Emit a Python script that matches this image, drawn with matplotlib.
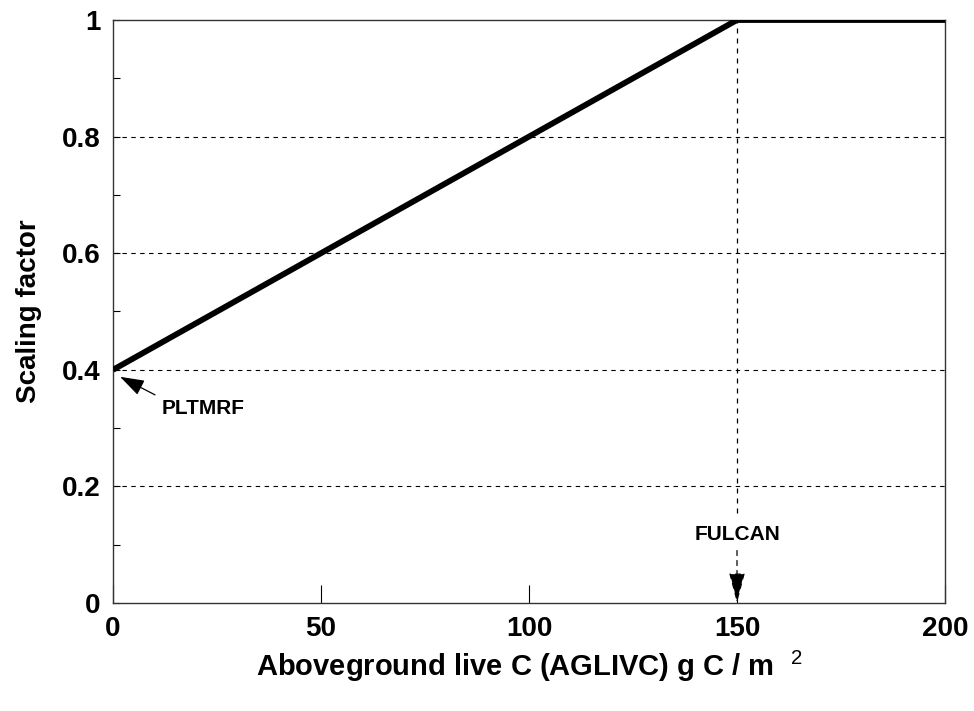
import matplotlib.pyplot as plt

plt.rcParams['font.family'] = ['Liberation Sans', 'DejaVu Sans']
plt.rcParams['mathtext.fontset'] = 'custom'
plt.rcParams['mathtext.rm'] = 'Liberation Sans'
plt.rcParams['mathtext.bf'] = 'Liberation Sans:bold'

# data
agliv_c = [0, 150, 200]
scale = [0.4, 1.0, 1.0]
pltmrf = 0.4
fulcan = 150

x_ticks = [0, 50, 100, 150, 200]
y_ticks = [0, 0.2, 0.4, 0.6, 0.8, 1]
y_tick_labels = ['0', '0.2', '0.4', '0.6', '0.8', '1']

fig = plt.figure(figsize=(9.74, 7.11), dpi=100)
ax = fig.add_axes([113 / 974, 1 - 603 / 711, 832 / 974, 583 / 711])

ax.plot(agliv_c, scale, color='black', lw=4.2, solid_capstyle='butt', zorder=5)

for yv in y_ticks[1:-1]:
    ax.axhline(yv, color='black', lw=0.8, ls=(0, (4, 4)), zorder=1)

# FULCAN marker
ax.plot([fulcan, fulcan], [0.155, 1.0], color='black', lw=0.9, ls=(0, (4, 4)), zorder=2)
ax.text(fulcan, 0.117, 'FULCAN', ha='center', va='center', fontsize=15, fontweight='bold')
ax.annotate('', xy=(fulcan, 0), xytext=(fulcan, 0.09),
            arrowprops=dict(arrowstyle='-|>,head_length=1.9,head_width=0.5', color='black',
                            lw=0.9, ls=(0, (4, 4)), shrinkA=0, shrinkB=0))

# PLTMRF marker
ax.annotate('', xy=(1.7, 0.388), xytext=(10.1, 0.357),
            arrowprops=dict(arrowstyle='-|>,head_length=1.5,head_width=0.5', color='black',
                            lw=0.9, shrinkA=0, shrinkB=0))
ax.text(11.8, 0.333, 'PLTMRF', fontsize=15, fontweight='bold', ha='left', va='center')

ax.set_xlim(0, 200)
ax.set_ylim(0, 1)
ax.set_xticks(x_ticks)
ax.set_xticklabels([str(v) for v in x_ticks])
ax.set_yticks(y_ticks)
ax.set_yticklabels(y_tick_labels)
ax.set_yticks([0.1, 0.3, 0.5, 0.7, 0.9], minor=True)

ax.tick_params(axis='both', which='major', direction='in', length=5, width=0.8,
               labelsize=20, pad=9)
ax.tick_params(axis='x', which='major', length=13)
ax.tick_params(axis='y', which='minor', direction='in', length=5, width=0.8)
for lab in ax.get_xticklabels() + ax.get_yticklabels():
    lab.set_fontweight('bold')

for spine in ax.spines.values():
    spine.set_linewidth(1.0)
    spine.set_color('#333333')

ax.set_xlabel('Aboveground live C (AGLIVC) g C / m  $^{\\mathrm{2}}$', fontsize=21,
              fontweight='bold', labelpad=5)
ax.set_ylabel('Scaling factor', fontsize=20, fontweight='bold', labelpad=14)

fig.savefig('out.png', dpi=100, facecolor='white')
